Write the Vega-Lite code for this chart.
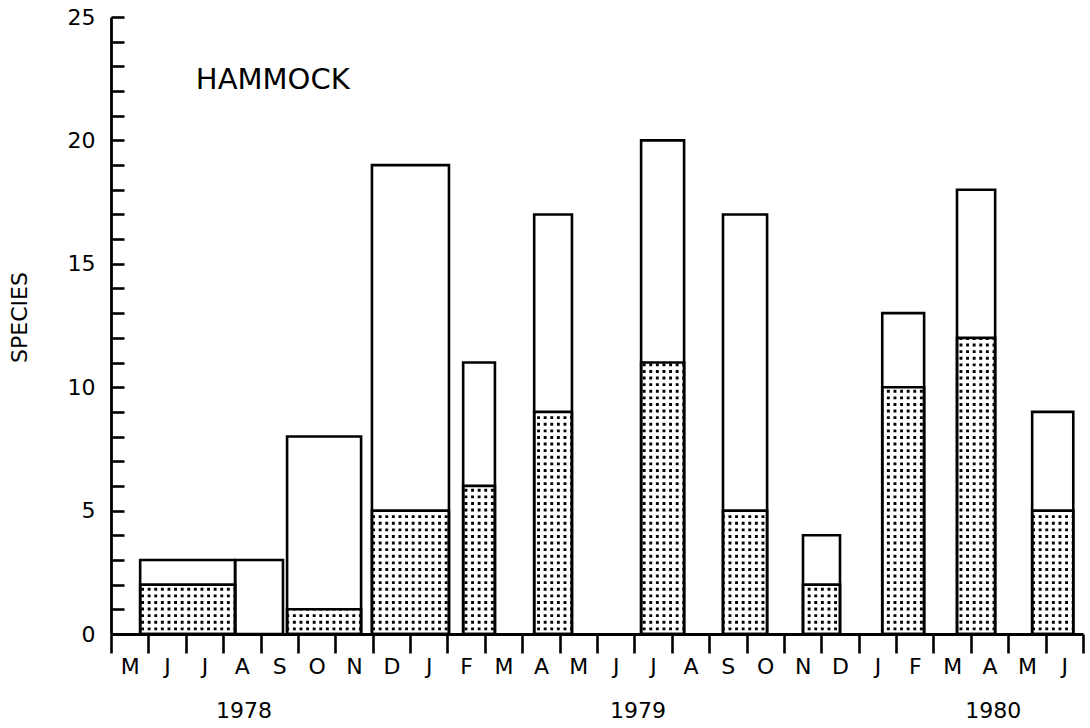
{
  "$schema": "https://vega.github.io/schema/vega-lite/v6.json",
  "width": 972,
  "height": 617,
  "autosize": "none",
  "padding": {"left": 111, "top": 17, "right": 7, "bottom": 94},
  "background": "white",
  "config": {
    "view": {"stroke": null},
    "font": "DejaVu Sans",
    "axis": {
      "domainColor": "black", "tickColor": "black", "labelColor": "black", "titleColor": "black",
      "grid": false, "zindex": 1, "domainWidth": 2.8, "tickWidth": 2.6,
      "labelFont": "DejaVu Sans", "titleFont": "DejaVu Sans", "titleFontWeight": "normal"
    }
  },
  "resolve": {"axis": {"x": "independent", "y": "independent"}},
  "data": {"values": [
    {"start": 0.78, "end": 3.32, "total": 3, "dotted": 2},
    {"start": 3.32, "end": 4.60, "total": 3, "dotted": 0},
    {"start": 4.71, "end": 6.69, "total": 8, "dotted": 1},
    {"start": 6.98, "end": 9.04, "total": 19, "dotted": 5},
    {"start": 9.42, "end": 10.27, "total": 11, "dotted": 6},
    {"start": 11.32, "end": 12.33, "total": 17, "dotted": 9},
    {"start": 14.18, "end": 15.33, "total": 20, "dotted": 11},
    {"start": 16.37, "end": 17.55, "total": 17, "dotted": 5},
    {"start": 18.51, "end": 19.50, "total": 4, "dotted": 2},
    {"start": 20.63, "end": 21.75, "total": 13, "dotted": 10},
    {"start": 22.63, "end": 23.65, "total": 18, "dotted": 12},
    {"start": 24.64, "end": 25.74, "total": 9, "dotted": 5}
  ]},
  "layer": [
    {
      "transform": [{"filter": "datum.dotted > 0"}],
      "mark": {"type": "bar", "fill": "black"},
      "encoding": {
        "x": {"field": "start", "type": "quantitative", "title": null,
          "scale": {"domain": [0, 26], "nice": false, "zero": false},
          "axis": {
            "values": [0,1,2,3,4,5,6,7,8,9,10,11,12,13,14,15,16,17,18,19,20,21,22,23,24,25,26],
            "zindex": 1,
            "tickSize": 19, "labelOffset": 18.7, "labelPadding": 3, "labelFontSize": 22,
            "labelBaseline": "top", "labelAlign": "center", "labelFlush": false, "labelOverlap": false,
            "labelExpr": "datum.value < 26 ? substring('MJJASONDJFMAMJJASONDJFMAMJ', datum.value, datum.value + 1) : ''"
          }},
        "x2": {"field": "end"},
        "y": {"field": "dotted", "type": "quantitative", "title": "SPECIES",
          "scale": {"domain": [0, 25], "nice": false},
          "axis": {
            "values": [0,1,2,3,4,5,6,7,8,9,10,11,12,13,14,15,16,17,18,19,20,21,22,23,24,25],
            "zindex": 1,
            "tickSize": -13, "labelPadding": 29, "labelFontSize": 22, "labelOverlap": false,
            "labelExpr": "datum.value % 5 == 0 ? datum.label : ''",
            "titleX": -92, "titleY": 300, "titleFontSize": 22, "titleAngle": -90,
            "titleAlign": "center", "titleBaseline": "middle"
          }},
        "y2": {"datum": 0}
      }
    },
    {
      "data": {"values": [{}]},
      "mark": {"type": "rule", "stroke": "white", "strokeWidth": 972, "strokeDash": [3.7, 2.9], "strokeCap": "butt"},
      "encoding": {
        "x": {"datum": 13, "type": "quantitative", "axis": null},
        "y": {"datum": 0, "type": "quantitative", "axis": null},
        "y2": {"datum": 25}
      }
    },
    {
      "data": {"values": [{}]},
      "mark": {"type": "rule", "stroke": "white", "strokeWidth": 617, "strokeDash": [3.7, 2.9], "strokeCap": "butt"},
      "encoding": {
        "y": {"datum": 12.5, "type": "quantitative", "axis": null},
        "x": {"datum": 0, "type": "quantitative", "axis": null},
        "x2": {"datum": 26}
      }
    },
    {
      "mark": {"type": "bar", "filled": false, "stroke": "black", "strokeWidth": 2.6},
      "encoding": {
        "x": {"field": "start", "type": "quantitative", "axis": null},
        "x2": {"field": "end"},
        "y": {"field": "total", "type": "quantitative", "axis": null},
        "y2": {"datum": 0}
      }
    },
    {
      "transform": [{"filter": "datum.dotted > 0"}],
      "mark": {"type": "bar", "filled": false, "stroke": "black", "strokeWidth": 2.6},
      "encoding": {
        "x": {"field": "start", "type": "quantitative", "axis": null},
        "x2": {"field": "end"},
        "y": {"field": "dotted", "type": "quantitative", "axis": null},
        "y2": {"datum": 0}
      }
    },
    {
      "data": {"values": [{"label": "HAMMOCK"}]},
      "mark": {"type": "text", "align": "left", "baseline": "middle", "fontSize": 29, "font": "DejaVu Sans", "color": "black"},
      "encoding": {
        "x": {"datum": 2.27, "type": "quantitative", "axis": null},
        "y": {"datum": 22.45, "type": "quantitative", "axis": null},
        "text": {"field": "label"}
      }
    },
    {
      "data": {"values": [{"year": "1978", "mid": 3.56}, {"year": "1979", "mid": 14.1}, {"year": "1980", "mid": 23.6}]},
      "mark": {"type": "text", "align": "center", "baseline": "middle", "fontSize": 22, "font": "DejaVu Sans", "color": "black"},
      "encoding": {
        "x": {"field": "mid", "type": "quantitative", "axis": null},
        "y": {"datum": -3.1, "type": "quantitative", "axis": null},
        "text": {"field": "year"}
      }
    }
  ]
}
